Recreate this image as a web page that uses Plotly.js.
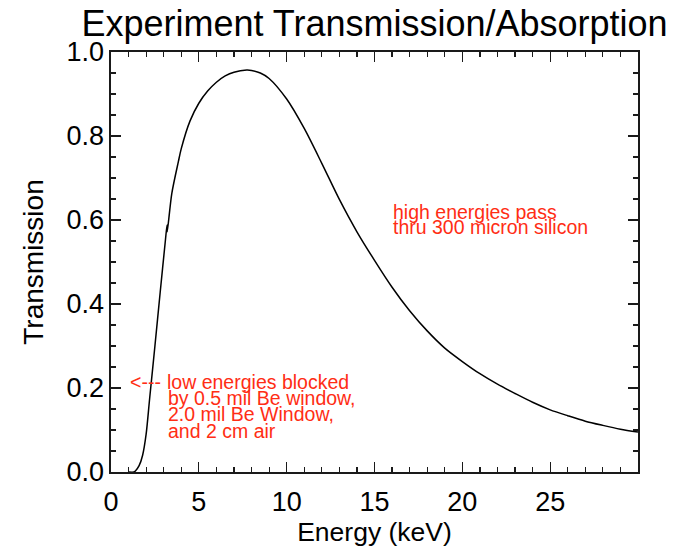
<!DOCTYPE html>
<html>
<head>
<meta charset="utf-8">
<script src="https://cdn.plot.ly/plotly-3.0.1.min.js"></script>
<style>
  html, body { margin: 0; padding: 0; background: #ffffff; }
  #chart { width: 675px; height: 548px; }
</style>
</head>
<body>
<div id="chart"></div>
<script>
// Photon energy (keV) and detector transmission through the windows, air and silicon
const energy = [1.0, 1.3, 1.4, 1.6, 1.8, 2.0, 2.2, 2.5, 2.8, 3.1, 3.19, 3.2, 3.46, 3.84,
  4.0, 4.5, 5.0, 5.5, 6.0, 6.5, 7.0, 7.73, 8.0, 8.5, 9.0, 10.0, 11.0, 12.0, 13.0, 14.0,
  15.0, 16.0, 17.0, 18.0, 19.0, 20.0, 21.0, 22.0, 23.0, 24.0, 25.0, 26.0, 27.0, 28.0, 29.0, 30.0];
const transmission = [0.0, 0.0, 0.003, 0.015, 0.04, 0.09, 0.175, 0.30, 0.428, 0.553, 0.588, 0.572, 0.663, 0.740,
  0.770, 0.836, 0.878, 0.907, 0.928, 0.943, 0.952, 0.957, 0.956, 0.950, 0.937, 0.888, 0.818, 0.735, 0.649, 0.572,
  0.504, 0.440, 0.384, 0.336, 0.295, 0.263, 0.234, 0.209, 0.187, 0.166, 0.148, 0.134, 0.121, 0.111, 0.102, 0.095];

// Axis tick labels
const xTickVals = [0, 5, 10, 15, 20, 25];
const xTickText = ['0', '5', '10', '15', '20', '25'];
const yTickVals = [0, 0.2, 0.4, 0.6, 0.8, 1.0];
const yTickText = ['0.0', '0.2', '0.4', '0.6', '0.8', '1.0'];

// Note texts, one entry per line, with the energy / transmission where each line sits
const highNoteLines = ['high energies pass', 'thru 300 micron silicon'];
const highNoteX = [15.95, 15.95];
const highNoteY = [0.618, 0.584];

const lowArrowText = ['<---'];
const lowArrowX = [0.95];
const lowArrowY = [0.214];
const lowNoteLines = ['low energies blocked', 'by 0.5 mil Be window,', '2.0 mil Be Window,', 'and 2 cm air'];
const lowNoteX = [3.1, 3.15, 3.15, 3.15];
const lowNoteY = [0.214, 0.176, 0.137, 0.097];

const FONT = 'Liberation Sans, Arial, Helvetica, sans-serif';
const NOTE_RED = 'rgb(255,45,20)';

const annotations = [];
function addLines(texts, xs, ys) {
  texts.forEach((t, i) => {
    annotations.push({
      text: t, x: xs[i], y: ys[i], xref: 'x', yref: 'y',
      xanchor: 'left', yanchor: 'middle', showarrow: false,
      font: { family: FONT, size: 19.5, color: NOTE_RED }
    });
  });
}
addLines(highNoteLines, highNoteX, highNoteY);
addLines(lowArrowText, lowArrowX, lowArrowY);
addLines(lowNoteLines, lowNoteX, lowNoteY);

const axisCommon = {
  showgrid: false, zeroline: false,
  showline: true, linecolor: '#1a1a1a', linewidth: 1.6, mirror: 'ticks',
  ticks: 'inside', ticklen: 10, tickwidth: 1.2, tickcolor: '#1a1a1a',
  tickfont: { family: FONT, size: 27, color: '#000' },
  tickmode: 'array'
};

const layout = {
  width: 675, height: 548,
  paper_bgcolor: '#ffffff', plot_bgcolor: '#ffffff',
  margin: { l: 111, r: 37, t: 52, b: 76 },
  showlegend: false,
  title: {
    text: 'Experiment Transmission/Absorption',
    font: { family: FONT, size: 36, color: '#000' },
    x: 0.5, xref: 'paper', xanchor: 'center',
    y: 1 - 23 / 548, yref: 'container', yanchor: 'middle'
  },
  xaxis: Object.assign({}, axisCommon, {
    range: [0, 30],
    tickvals: xTickVals, ticktext: xTickText,
    ticklabelstandoff: 5,
    minor: { dtick: 1, tick0: 0, ticks: 'inside', ticklen: 5, tickwidth: 1.2, tickcolor: '#1a1a1a', showgrid: false },
    title: { text: 'Energy (keV)', font: { family: FONT, size: 26.5, color: '#000' }, standoff: 0 }
  }),
  yaxis: Object.assign({}, axisCommon, {
    range: [0, 1.0],
    tickvals: yTickVals, ticktext: yTickText,
    minor: { dtick: 0.05, tick0: 0, ticks: 'inside', ticklen: 5, tickwidth: 1.2, tickcolor: '#1a1a1a', showgrid: false },
    title: { text: 'Transmission', font: { family: FONT, size: 28, color: '#000' }, standoff: 14 }
  }),
  annotations: annotations
};

const trace = {
  x: energy, y: transmission,
  type: 'scatter', mode: 'lines',
  line: { color: '#000000', width: 1.5, shape: 'spline', smoothing: 0.8 },
  hoverinfo: 'skip'
};

Plotly.newPlot('chart', [trace], layout, { displayModeBar: false, staticPlot: true });
</script>
</body>
</html>
